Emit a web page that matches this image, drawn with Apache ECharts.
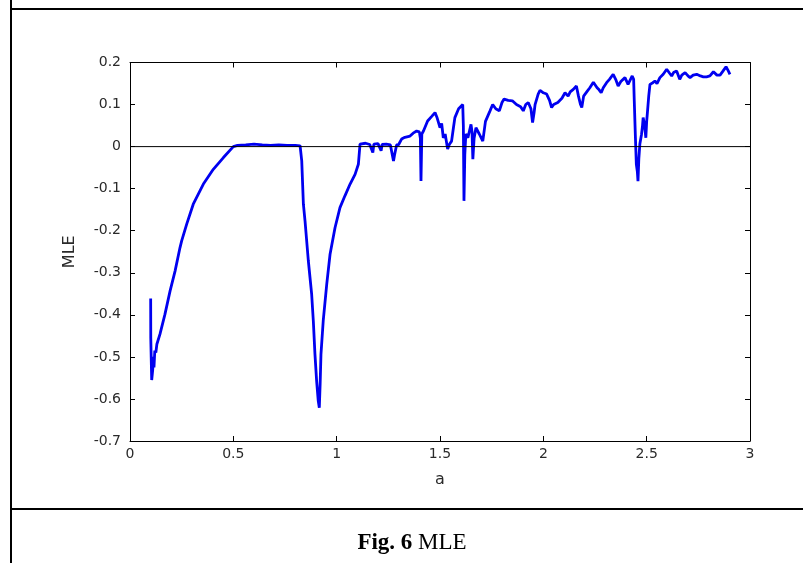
<!DOCTYPE html>
<html>
<head>
<meta charset="utf-8">
<title>MLE</title>
<script src="https://cdn.jsdelivr.net/npm/echarts@6/dist/echarts.min.js"></script>
<style>
  html, body { margin: 0; padding: 0; background: #ffffff; }
  #chart { width: 803px; height: 563px; }
</style>
</head>
<body>
<div id="chart"></div>
<script>
// parameter a
var aValues = [
  0.100, 0.1005, 0.104, 0.105, 0.110, 0.113, 0.116, 0.120, 0.125, 0.130,
  0.145, 0.169, 0.194, 0.218, 0.242, 0.250, 0.274, 0.306, 0.355, 0.403,
  0.452, 0.500, 0.520, 0.560, 0.600, 0.640, 0.680, 0.720, 0.760, 0.800,
  0.823, 0.831, 0.839, 0.847, 0.863, 0.879, 0.887, 0.895, 0.903, 0.911,
  0.916, 0.920, 0.924, 0.935, 0.952, 0.968, 0.992, 1.016, 1.040, 1.065,
  1.089, 1.105, 1.113, 1.120, 1.140, 1.160, 1.175, 1.180, 1.200, 1.215,
  1.220, 1.240, 1.260, 1.275, 1.280, 1.290, 1.300, 1.314, 1.330, 1.355,
  1.370, 1.387, 1.400, 1.405, 1.408, 1.412, 1.420, 1.440, 1.460, 1.476,
  1.485, 1.500, 1.508, 1.516, 1.525, 1.537, 1.545, 1.556, 1.565, 1.572,
  1.590, 1.610, 1.613, 1.616, 1.620, 1.625, 1.635, 1.650, 1.655, 1.659,
  1.665, 1.674, 1.690, 1.700, 1.707, 1.720, 1.742, 1.755, 1.770, 1.787,
  1.800, 1.810, 1.830, 1.850, 1.870, 1.890, 1.903, 1.915, 1.927, 1.940,
  1.948, 1.955, 1.960, 1.975, 1.984, 2.000, 2.016, 2.030, 2.040, 2.050,
  2.070, 2.090, 2.105, 2.120, 2.130, 2.145, 2.160, 2.170, 2.180, 2.186,
  2.195, 2.210, 2.225, 2.242, 2.260, 2.270, 2.280, 2.290, 2.306, 2.320,
  2.338, 2.350, 2.362, 2.375, 2.395, 2.410, 2.430, 2.437, 2.440, 2.445,
  2.450, 2.455, 2.458, 2.462, 2.467, 2.475, 2.480, 2.483, 2.490, 2.496,
  2.500, 2.503, 2.510, 2.516, 2.530, 2.540, 2.550, 2.564, 2.580, 2.597,
  2.610, 2.621, 2.630, 2.645, 2.660, 2.670, 2.686, 2.700, 2.710, 2.725,
  2.742, 2.760, 2.774, 2.790, 2.806, 2.815, 2.823, 2.840, 2.855, 2.870,
  2.884, 2.895, 2.903
];

// maximal Lyapunov exponent at each a
var mleValues = [
  -0.361, -0.455, -0.455, -0.555, -0.530, -0.500, -0.525, -0.485, -0.490, -0.470,
  -0.446, -0.399, -0.343, -0.296, -0.240, -0.224, -0.185, -0.137, -0.089, -0.054,
  -0.026, 0.000, 0.003, 0.004, 0.006, 0.004, 0.003, 0.004, 0.003, 0.003,
  0.002, -0.034, -0.137, -0.177, -0.272, -0.351, -0.414, -0.494, -0.557, -0.605,
  -0.621, -0.565, -0.494, -0.414, -0.327, -0.256, -0.193, -0.145, -0.117, -0.089,
  -0.066, -0.042, 0.006, 0.006, 0.008, 0.005, -0.014, 0.006, 0.007, -0.010,
  0.005, 0.006, 0.004, -0.034, -0.020, 0.004, 0.005, 0.018, 0.022, 0.025,
  0.032, 0.037, 0.035, 0.020, -0.082, 0.030, 0.037, 0.061, 0.072, 0.081,
  0.070, 0.045, 0.055, 0.021, 0.030, -0.006, 0.005, 0.013, 0.045, 0.069,
  0.090, 0.100, 0.050, -0.129, -0.020, 0.030, 0.021, 0.053, 0.035, -0.030,
  0.020, 0.045, 0.030, 0.020, 0.013, 0.060, 0.085, 0.100, 0.090, 0.085,
  0.105, 0.113, 0.110, 0.109, 0.100, 0.095, 0.085, 0.100, 0.105, 0.090,
  0.057, 0.080, 0.100, 0.125, 0.134, 0.128, 0.125, 0.110, 0.093, 0.100,
  0.105, 0.115, 0.128, 0.120, 0.130, 0.136, 0.144, 0.120, 0.100, 0.093,
  0.120, 0.130, 0.140, 0.153, 0.140, 0.135, 0.128, 0.140, 0.152, 0.160,
  0.172, 0.160, 0.144, 0.155, 0.164, 0.148, 0.168, 0.160, 0.109, 0.030,
  -0.042, -0.060, -0.082, -0.030, 0.006, 0.029, 0.050, 0.069, 0.050, 0.021,
  0.060, 0.077, 0.120, 0.148, 0.152, 0.156, 0.150, 0.164, 0.172, 0.184,
  0.175, 0.168, 0.176, 0.180, 0.160, 0.170, 0.176, 0.168, 0.164, 0.170,
  0.172, 0.168, 0.166, 0.166, 0.168, 0.172, 0.178, 0.170, 0.170, 0.180,
  0.190, 0.180, 0.172
];

// axis ranges and ticks
var xMin = 0, xMax = 3, xStep = 0.5;
var yMin = -0.7, yMax = 0.2, yStep = 0.1;
var zeroLine = [[0, 0], [3.02, 0]];

var curve = aValues.map(function (a, i) { return [a, mleValues[i]]; });

var tickFont = { fontFamily: 'DejaVu Sans', fontSize: 14, color: '#2a2a2a' };
function fmt(v) { var r = Math.round(v * 10) / 10; return r === 0 ? '0' : String(r); }

var chart = echarts.init(document.getElementById('chart'), null, { renderer: 'canvas' });

var baseX = {
  type: 'value', min: xMin, max: xMax, interval: xStep,
  axisLine: { show: true, onZero: false, lineStyle: { color: '#000', width: 1 } },
  axisTick: { show: true, inside: true, length: 5, lineStyle: { color: '#000' } },
  splitLine: { show: false }
};
var baseY = {
  type: 'value', min: yMin, max: yMax, interval: yStep,
  axisLine: { show: true, onZero: false, lineStyle: { color: '#000', width: 1 } },
  axisTick: { show: true, inside: true, length: 5, lineStyle: { color: '#000' } },
  splitLine: { show: false }
};

chart.setOption({
  animation: false,
  backgroundColor: '#ffffff',
  grid: { left: 130, right: 53, top: 62.5, bottom: 122, containLabel: false },
  xAxis: [
    Object.assign({}, baseX, {
      position: 'bottom',
      name: 'a', nameLocation: 'middle', nameGap: 31,
      nameTextStyle: { fontFamily: 'DejaVu Sans', fontSize: 16, color: '#2a2a2a' },
      axisLabel: Object.assign({ margin: 6, formatter: fmt }, tickFont)
    }),
    Object.assign({}, baseX, { position: 'top', axisLabel: { show: false } })
  ],
  yAxis: [
    Object.assign({}, baseY, {
      position: 'left',
      name: 'MLE', nameLocation: 'middle', nameGap: 52,
      nameTextStyle: { fontFamily: 'DejaVu Sans', fontSize: 16, color: '#2a2a2a' },
      axisLabel: Object.assign({ margin: 9, formatter: fmt }, tickFont)
    }),
    Object.assign({}, baseY, { position: 'right', axisLabel: { show: false } })
  ],
  series: [
    {
      type: 'line', xAxisIndex: 0, yAxisIndex: 0,
      data: curve, showSymbol: false, symbol: 'none',
      lineStyle: { color: '#0000f0', width: 2.8 },
      z: 2
    },
    {
      type: 'line', xAxisIndex: 0, yAxisIndex: 0,
      data: zeroLine, showSymbol: false, symbol: 'none', clip: false,
      lineStyle: { color: '#000', width: 1 },
      z: 3
    }
  ],
  graphic: [
    { type: 'rect', shape: { x: 10, y: 0, width: 2, height: 563 }, style: { fill: '#000' } },
    { type: 'rect', shape: { x: 10, y: 8, width: 793, height: 2 }, style: { fill: '#000' } },
    { type: 'rect', shape: { x: 10, y: 508, width: 793, height: 2 }, style: { fill: '#000' } },
    {
      type: 'text', x: 412, y: 543,
      style: {
        text: '{b|Fig. 6} MLE',
        fontFamily: 'Liberation Serif', fontSize: 23, fill: '#000',
        align: 'center', verticalAlign: 'middle',
        rich: { b: { fontFamily: 'Liberation Serif', fontSize: 23, fontWeight: 'bold', fill: '#000' } }
      }
    }
  ]
});
</script>
</body>
</html>
